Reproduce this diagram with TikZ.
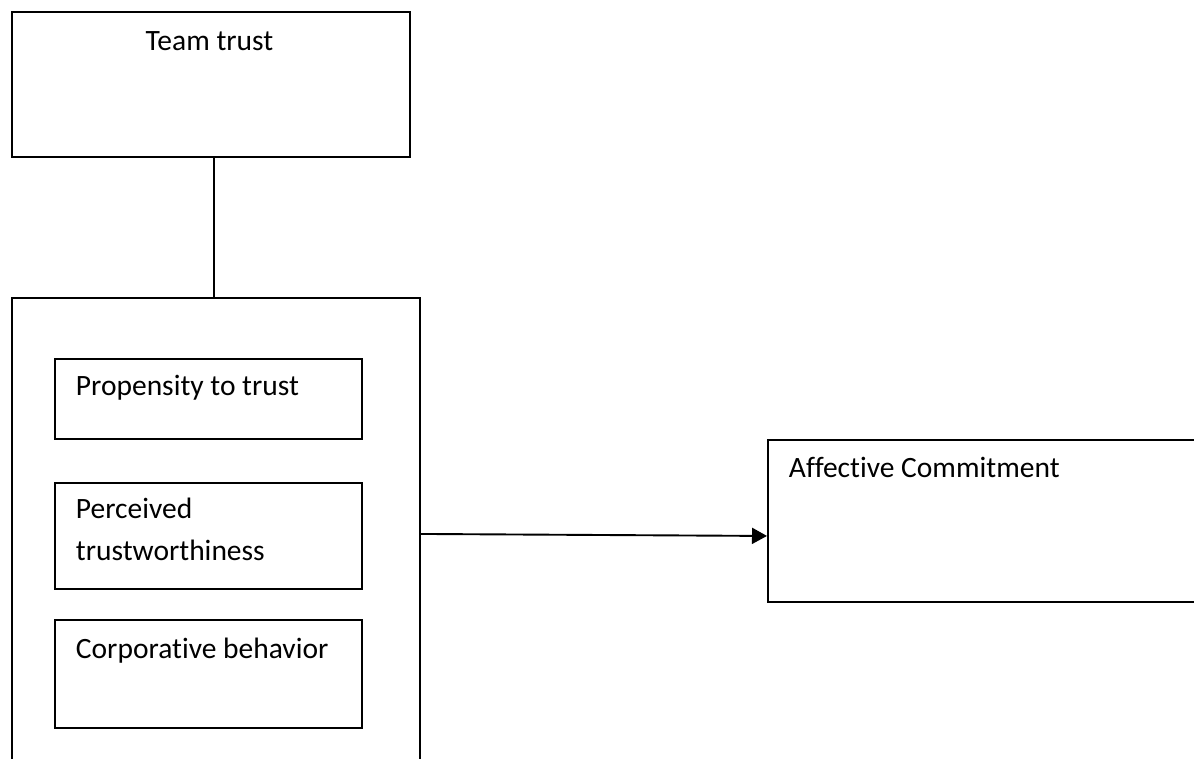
\documentclass[tikz,border=0pt]{standalone}
\usepackage{fontspec}
\setmainfont[RawFeature=-liga]{Carlito}
\usetikzlibrary{arrows.meta}
\begin{document}
\begin{tikzpicture}[x=1pt,y=-1pt, line width=1.9pt,
  box/.style={draw, rectangle, inner sep=0pt, anchor=north west},
  txt/.style={inner sep=0pt, anchor=base west, font=\fontsize{29.5}{42}\selectfont},
  arr/.style={-{Triangle[length=15pt,width=16pt]}}]
\useasboundingbox (0,0) rectangle (1194,758);
\fill[white] (0,0) rectangle (1194,758);
\begin{scope}
\clip (0,0) rectangle (1194,758);
\node[box, minimum width=398pt, minimum height=145pt] (team) at (11,11) {};
\node[box, minimum width=408pt, minimum height=520pt] (outer) at (11,297) {};
\node[box, minimum width=307pt, minimum height=80pt] (prop) at (54,358) {};
\node[box, minimum width=307pt, minimum height=106pt] (perc) at (54,482) {};
\node[box, minimum width=307pt, minimum height=108pt] (corp) at (54,619) {};
\node[box, minimum width=500pt, minimum height=162pt] (aff) at (767,439) {};

\node[txt, anchor=base] (teamtxt) at (209.5,50) {Team trust};
\node[txt] (proptxt) at (75,395) {Propensity to trust};
\node[txt] (perctxt1) at (75,518) {Perceived};
\node[txt] (perctxt2) at (75,560) {trustworthiness};
\node[txt] (corptxt) at (75,658) {Corporative behavior};
\node[txt] (afftxt) at (788,477) {Affective Commitment};

\draw ([xshift=3pt]team.south) -- ([xshift=3pt]team.south |- outer.north);
\draw[arr] ([yshift=24pt]outer.east) -- ([yshift=-15pt]aff.west);
\end{scope}
\end{tikzpicture}
\end{document}
